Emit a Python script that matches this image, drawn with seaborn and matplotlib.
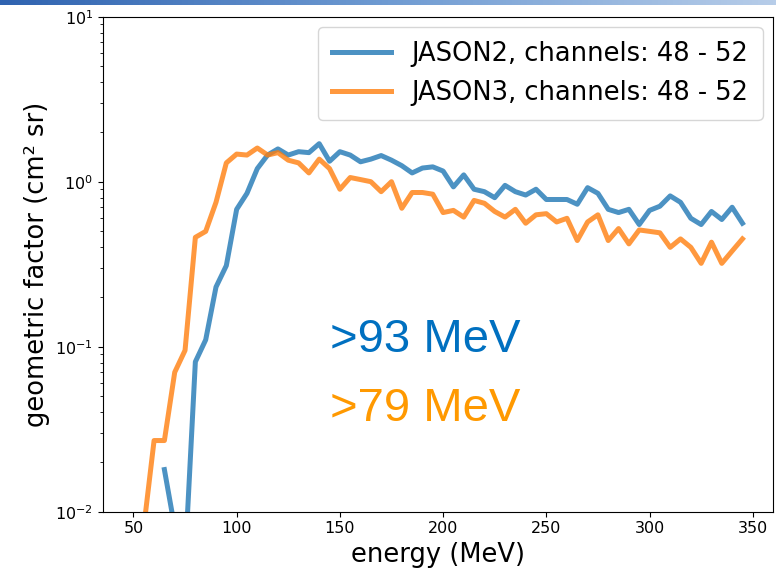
import numpy as np
import pandas as pd
import matplotlib
matplotlib.use("Agg")
import matplotlib.pyplot as plt
from matplotlib.colors import LinearSegmentedColormap
import seaborn as sns

energy = list(range(50, 350, 5))  # 50 ... 345 MeV

jason2 = [np.nan, np.nan, np.nan, 0.018, 0.008, 0.005, 0.081, 0.11, 0.23, 0.31,
          0.68, 0.85, 1.2, 1.45, 1.58, 1.45, 1.52, 1.5, 1.7, 1.33,
          1.52, 1.45, 1.32, 1.37, 1.44, 1.35, 1.25, 1.13, 1.21, 1.23,
          1.16, 0.93, 1.1, 0.9, 0.87, 0.8, 0.95, 0.87, 0.83, 0.9,
          0.78, 0.78, 0.78, 0.73, 0.92, 0.85, 0.68, 0.65, 0.68, 0.55,
          0.67, 0.71, 0.82, 0.75, 0.6, 0.55, 0.66, 0.59, 0.7, 0.56]

jason3 = [np.nan, 0.008, 0.027, 0.027, 0.07, 0.095, 0.46, 0.5, 0.75, 1.3,
          1.47, 1.45, 1.6, 1.45, 1.5, 1.35, 1.3, 1.13, 1.37, 1.2,
          0.9, 1.06, 1.03, 1.0, 0.87, 1.0, 0.69, 0.86, 0.86, 0.84,
          0.65, 0.67, 0.61, 0.77, 0.74, 0.66, 0.61, 0.68, 0.56, 0.63,
          0.64, 0.57, 0.6, 0.44, 0.57, 0.63, 0.44, 0.52, 0.42, 0.51,
          0.5, 0.49, 0.4, 0.45, 0.4, 0.32, 0.43, 0.32, 0.38, 0.45]

labels = ["JASON2, channels: 48 - 52", "JASON3, channels: 48 - 52"]
annotations = [">93 MeV", ">79 MeV"]

df = pd.DataFrame({
    "energy": energy * 2,
    "gf": jason2 + jason3,
    "series": [labels[0]] * len(energy) + [labels[1]] * len(energy),
})

fig = plt.figure(figsize=(7.76, 5.79), dpi=100)
ax = fig.add_axes([0.1327, 0.1162, 0.8633, 0.8550])

sns.lineplot(data=df, x="energy", y="gf", hue="series", estimator=None,
             palette=["#1f77b4", "#ff7f0e"], linewidth=3.6, alpha=0.8, ax=ax)

ax.set_yscale("log")
ax.set_ylim(1e-2, 1e1)
ax.set_xlim(35.25, 359.75)
ax.set_xlabel("energy (MeV)", fontsize=18.5)
ax.set_ylabel("geometric factor (cm² sr)", fontsize=18.5)
ax.tick_params(axis="both", which="major", labelsize=11.5)

leg = ax.legend(loc="upper right", fontsize=18.5, frameon=True,
                handlelength=2.3, handletextpad=0.8, borderpad=0.55,
                borderaxespad=0.4)
for line in leg.get_lines():
    line.set_linewidth(3.6)

ax.text(0.339, 0.3226, annotations[0], transform=ax.transAxes, color="#0070C0",
        fontsize=34, family="Liberation Sans", va="baseline", ha="left")
ax.text(0.339, 0.183, annotations[1], transform=ax.transAxes, color="#FF9900",
        fontsize=34, family="Liberation Sans", va="baseline", ha="left")

# slide decoration band at top
band = fig.add_axes([0, 0.991, 1, 0.009])
grad = np.linspace(0, 1, 256).reshape(1, -1)
cmap = LinearSegmentedColormap.from_list("band", ["#2f63b0", "#6f9bd2", "#b7cde9"])
band.imshow(grad, aspect="auto", cmap=cmap)
band.set_axis_off()

fig.savefig("out.png", dpi=100)
